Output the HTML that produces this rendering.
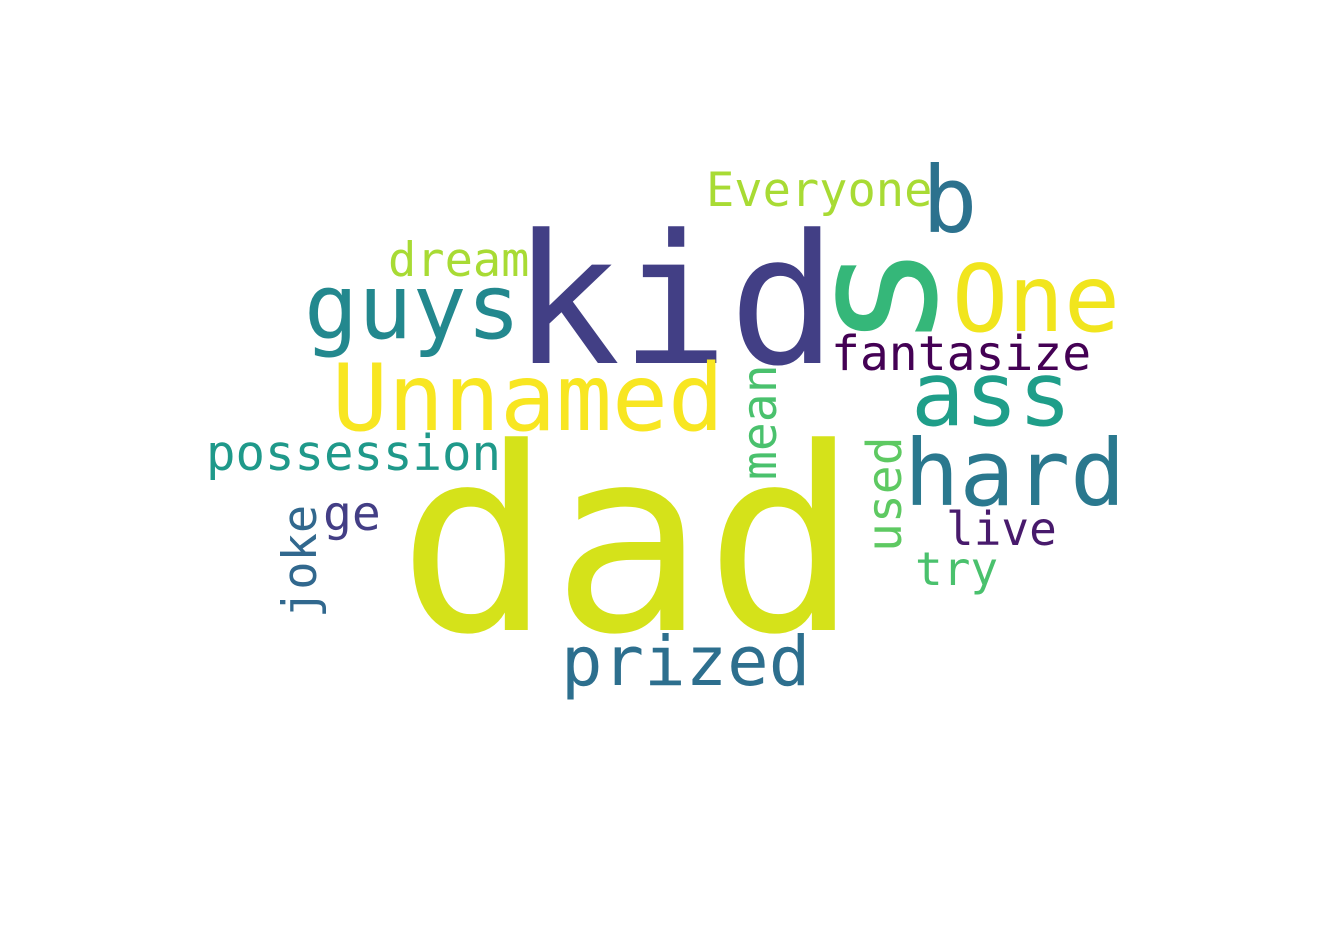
<!DOCTYPE html>
<html><head><meta charset="utf-8"><style>
html,body{margin:0;padding:0;background:#fff;}
svg{display:block}
text{font-family:"DejaVu Sans Mono","Liberation Mono",monospace;}
</style></head><body>
<svg width="1334" height="945" viewBox="0 0 1334 945">
<rect width="1334" height="945" fill="#fff"/>
<g id="words"></g>
</svg>
<script>
const words = ["dad","kid","s","b","One","Everyone","dream","guys","Unnamed","fantasize","ass","hard","possession","mean","used","ge","joke","live","try","prized"];
const sizes = [255,180,178,92,93,47,47,90,93,48,89,92,49,48,48,48,47,46,46,69];
const colors = ["#d5e21a","#423f85","#35b779","#2c728e","#f1e51d","#a8db34","#a8db34","#23888e","#f8e621","#440154","#1f9e89","#2a788e","#1f998a","#4ac16d","#5ec962","#433e85","#31688e","#481a6c","#4ac16d","#2d6f8e"];
const xs = [398,512,935,922,952,706,388,304,332,831,911,904,206,776,901,323,316,946,915,561];
const ys = [630,363,350,232,331,206,276,338,430,370,425,505,470,480,552,530,618,545,585,685];
const rot = [0,0,1,0,0,0,0,0,0,0,0,0,0,1,1,0,1,0,0,0];
const g = document.getElementById('words');
const NS = "http://www.w3.org/2000/svg";
words.forEach((w,i)=>{
  const t = document.createElementNS(NS,'text');
  t.textContent = w;
  t.setAttribute('font-size', sizes[i]);
  t.setAttribute('fill', colors[i]);
  t.setAttribute('transform', 'translate('+xs[i]+','+ys[i]+')'+(rot[i]?' rotate(-90)':''));
  
  
  g.appendChild(t);
});
</script>
</body></html>
